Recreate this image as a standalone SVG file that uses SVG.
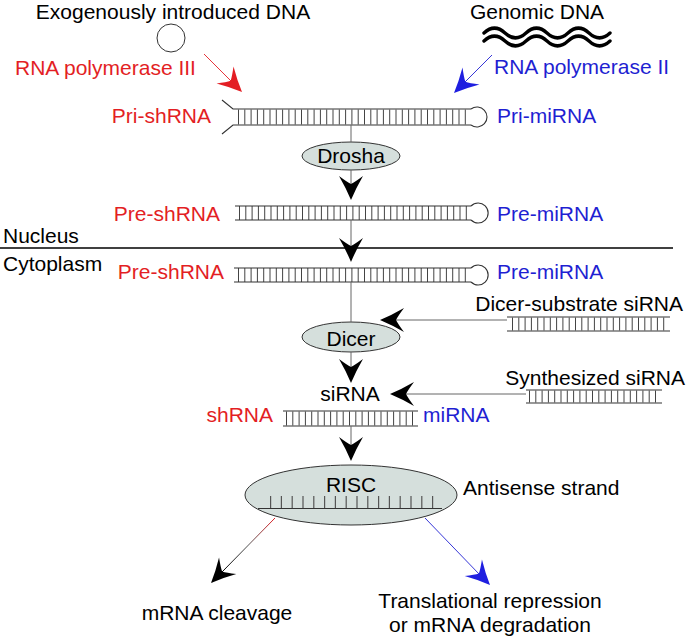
<svg xmlns="http://www.w3.org/2000/svg" xmlns:xlink="http://www.w3.org/1999/xlink" width="696" height="641" viewBox="0 0 696 641">
<style>
text{font-family:"Liberation Sans",Arial,Helvetica,sans-serif;font-size:21px;fill:#000}
.r{fill:#e31e24}
.b{fill:#1f1fd2}
.strand{stroke:#333;stroke-width:1.1;fill:none}
.tick{stroke:#444;stroke-dasharray:1 5.3;fill:none}
.loop{stroke:#333;stroke-width:1.1;fill:#fff}
.conn{stroke:#666;stroke-width:1;fill:none}
.enz{fill:#d5dfdc;stroke:#333;stroke-width:1}
</style>
<defs>
<path id="ah" d="M0,0 Q-12,-5 -24,-12 Q-18,-4 -16,0 Q-18,4 -24,12 Q-12,5 0,0 Z"/>
<linearGradient id="gl" gradientUnits="userSpaceOnUse" x1="275" y1="518" x2="222" y2="572">
<stop offset="0" stop-color="#e31e24"/><stop offset="0.5" stop-color="#555"/><stop offset="1" stop-color="#000"/>
</linearGradient>
</defs>

<g id="exogenous-dna">
<text x="173" y="19" text-anchor="middle">Exogenously introduced DNA</text>
<circle cx="171" cy="38" r="14" fill="none" stroke="#333" stroke-width="1"/>
</g>

<g id="genomic-dna">
<text x="537" y="19" text-anchor="middle">Genomic DNA</text>
<path d="M484,33 c7,-6.5 14,-6.5 21,0 s14,6.5 21,0 s14,-6.5 21,0 s14,6.5 21,0 s14,-6.5 21,0 s14,6.5 21,0" stroke="#000" stroke-width="3.4" fill="none" stroke-linecap="round"/>
<path d="M484,41 c7,-6.5 14,-6.5 21,0 s14,6.5 21,0 s14,-6.5 21,0 s14,6.5 21,0 s14,-6.5 21,0 s14,6.5 21,0" stroke="#000" stroke-width="3.4" fill="none" stroke-linecap="round"/>
</g>

<g id="pol3"><text class="r" x="15" y="75">RNA polymerase III</text></g>
<g id="pol2"><text class="b" x="494" y="74">RNA polymerase II</text></g>

<g id="pri-rna">
<text class="r" x="211" y="123" text-anchor="end">Pri-shRNA</text>
<text class="b" x="497" y="123">Pri-miRNA</text>
<line class="tick" x1="238" y1="117" x2="470" y2="117" stroke-width="15"/>
<path class="strand" d="M222,100 L233,109 H471 M222,134 L233,125 H471"/>
<path class="loop" d="M471,109 A10,10 0 1 1 471,125"/>
</g>

<g id="drosha">
<ellipse class="enz" cx="351" cy="156" rx="49" ry="14"/>
<text x="351" y="163" text-anchor="middle">Drosha</text>
</g>

<g id="pre-rna-nucleus">
<text class="r" x="220" y="221" text-anchor="end">Pre-shRNA</text>
<text class="b" x="497" y="221">Pre-miRNA</text>
<line class="tick" x1="239" y1="213" x2="470" y2="213" stroke-width="14"/>
<path class="strand" d="M235,206 H471 M235,220 H471"/>
<path class="loop" d="M471,206 A10,10 0 1 1 471,220"/>
</g>

<g id="membrane">
<line x1="0" y1="248" x2="673" y2="248" stroke="#000" stroke-width="1.3"/>
<text x="3" y="243">Nucleus</text>
<text x="3" y="271">Cytoplasm</text>
</g>

<g id="pre-rna-cytoplasm">
<text class="r" x="224" y="279" text-anchor="end">Pre-shRNA</text>
<text class="b" x="497" y="279">Pre-miRNA</text>
<line class="tick" x1="238" y1="275" x2="470" y2="275" stroke-width="14"/>
<path class="strand" d="M234,268 H471 M234,282 H471"/>
<path class="loop" d="M471,268 A10,10 0 1 1 471,282"/>
</g>

<g id="dicer-substrate">
<text x="683" y="311" text-anchor="end">Dicer-substrate siRNA</text>
<line class="tick" x1="512" y1="324" x2="668" y2="324" stroke-width="13"/>
<path class="strand" d="M507,317 H670 M507,331 H670"/>
</g>

<g id="dicer">
<ellipse class="enz" cx="351" cy="337" rx="49" ry="15"/>
<text x="351" y="346" text-anchor="middle">Dicer</text>
</g>

<g id="sirna"><text x="350" y="401" text-anchor="middle">siRNA</text></g>

<g id="synthesized-sirna">
<text x="685" y="385" text-anchor="end">Synthesized siRNA</text>
<line class="tick" x1="529" y1="396.5" x2="661" y2="396.5" stroke-width="12"/>
<path class="strand" d="M526,390 H662 M526,403 H662"/>
</g>

<g id="duplex">
<text class="r" x="273" y="422" text-anchor="end">shRNA</text>
<text class="b" x="423" y="422">miRNA</text>
<line class="tick" x1="286" y1="418.5" x2="417" y2="418.5" stroke-width="14"/>
<path class="strand" d="M283,411 H418 M283,426 H418"/>
</g>

<g id="risc">
<ellipse class="enz" cx="351" cy="495" rx="106" ry="30"/>
<text x="351" y="492" text-anchor="middle">RISC</text>
<line x1="270" y1="502" x2="434" y2="502" stroke="#555" stroke-width="12" stroke-dasharray="1.2 9.6"/>
<line x1="258" y1="508.5" x2="442" y2="508.5" stroke="#333" stroke-width="1.1"/>
<text x="463" y="495">Antisense strand</text>
</g>

<g id="outcome-cleavage"><text x="217" y="620" text-anchor="middle">mRNA cleavage</text></g>
<g id="outcome-repression">
<text x="490" y="608" text-anchor="middle">Translational repression</text>
<text x="490" y="632" text-anchor="middle">or mRNA degradation</text>
</g>

<g id="connectors">
<line x1="204" y1="54" x2="232" y2="82" stroke="#e31e24" stroke-width="0.9"/>
<use xlink:href="#ah" transform="translate(242,92) rotate(45)" fill="#e31e24"/>
<line x1="492" y1="55" x2="464" y2="83" stroke="#1f1fd2" stroke-width="0.9"/>
<use xlink:href="#ah" transform="translate(454,93) rotate(135)" fill="#1f1fe0"/>
<path class="conn" d="M351,125 V142 M351,170 V188 M351,220 V250 M351,282 V322 M351,352 V371 M351,426 V449"/>
<use xlink:href="#ah" transform="translate(351,200) rotate(90)" fill="#000"/>
<use xlink:href="#ah" transform="translate(351,262) rotate(90)" fill="#000"/>
<use xlink:href="#ah" transform="translate(351,383) rotate(90)" fill="#000"/>
<use xlink:href="#ah" transform="translate(351,461) rotate(90)" fill="#000"/>
<line class="conn" x1="507" y1="320" x2="394" y2="320" stroke="#555"/>
<use xlink:href="#ah" transform="translate(380,320) rotate(180)" fill="#000"/>
<line class="conn" x1="526" y1="394" x2="404" y2="394" stroke="#555"/>
<use xlink:href="#ah" transform="translate(390,394) rotate(180)" fill="#000"/>
<line x1="275" y1="518" x2="222" y2="572" stroke="url(#gl)" stroke-width="1"/>
<use xlink:href="#ah" transform="translate(211,583) rotate(134)" fill="#000"/>
<line x1="425" y1="518" x2="480" y2="575" stroke="#1f1fd2" stroke-width="0.9"/>
<use xlink:href="#ah" transform="translate(490,585) rotate(46)" fill="#1f1fe0"/>
</g>
</svg>
